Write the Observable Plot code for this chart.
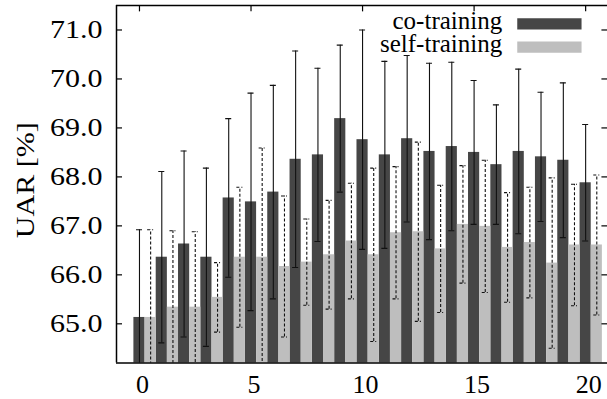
<!DOCTYPE html>
<html>
<head>
<meta charset="utf-8">
<script src="https://cdn.jsdelivr.net/npm/d3@7"></script>
<script src="https://cdn.jsdelivr.net/npm/@observablehq/plot@0.6"></script>
<style>
  html, body { margin: 0; padding: 0; background: #fff; overflow: hidden; }
</style>
</head>
<body>
<div id="chart"></div>
<script>
const iterations = [0, 1, 2, 3, 4, 5, 6, 7, 8, 9, 10, 11, 12, 13, 14, 15, 16, 17, 18, 19, 20];
const coMean   = [65.13, 66.36, 66.63, 66.36, 67.57, 67.49, 67.69, 68.36, 68.45, 69.19, 68.76, 68.45, 68.78, 68.52, 68.62, 68.50, 68.25, 68.52, 68.41, 68.34, 67.88];
const coStd    = [1.79, 1.75, 1.90, 1.82, 1.62, 2.22, 2.18, 2.21, 1.77, 1.50, 2.24, 1.91, 1.70, 1.80, 1.72, 1.47, 1.22, 1.68, 1.32, 1.58, 1.19];
const selfMean = [65.13, 65.34, 65.34, 65.54, 66.36, 66.36, 66.17, 66.26, 66.41, 66.69, 66.41, 66.86, 66.88, 66.53, 67.03, 66.99, 66.56, 66.66, 66.24, 66.61, 66.61];
const selfStd  = [1.79, 1.56, 1.54, 0.71, 1.43, 2.23, 1.44, 0.88, 1.11, 1.18, 1.77, 1.35, 1.83, 1.30, 1.20, 1.35, 1.12, 1.13, 1.74, 1.24, 1.43];
const seriesNames = ["co-training", "self-training"];
const yTicks = [65, 66, 67, 68, 69, 70, 71];
const xTicks = [0, 5, 10, 15, 20];
const yLabel = "UAR [%]";

const xDomain = [-1.03, 20.98];
const yDomain = [64.2, 71.5];
const darkFill = "#464646";
const lightFill = "#bebebe";
const halfBar = 0.25;
const capHalf = 0.135;
const yFmt = d3.format(".1f");

const co = iterations.map((x, i) => ({x, pos: x, mean: coMean[i], sd: coStd[i]}));
const self = iterations.map((x, i) => ({x, pos: x + 0.5, mean: selfMean[i], sd: selfStd[i]}));

function errorMarks(data, dash) {
  const common = {stroke: "#111", strokeWidth: 1.1, strokeDasharray: dash, clip: true};
  return [
    Plot.ruleX(data, {x: "pos", y1: d => d.mean - d.sd, y2: d => d.mean + d.sd, ...common}),
    Plot.ruleY(data, {y: d => d.mean + d.sd, x1: d => d.pos - capHalf, x2: d => d.pos + capHalf, ...common}),
    Plot.ruleY(data, {y: d => d.mean - d.sd, x1: d => d.pos - capHalf, x2: d => d.pos + capHalf, ...common})
  ];
}

const swatch = {draw(ctx) { ctx.rect(-32.15, -5.65, 64.3, 11.3); }};

const chart = Plot.plot({
  width: 607,
  height: 399,
  marginLeft: 116,
  marginRight: 0,
  marginTop: 5,
  marginBottom: 36.5,
  style: {fontFamily: "'Liberation Serif', 'Times New Roman', serif", fontSize: "25px", background: "#fff", color: "#000"},
  x: {domain: xDomain},
  y: {domain: yDomain},
  marks: [
    Plot.rectY(co, {x1: d => d.pos - halfBar, x2: d => d.pos + halfBar, y1: yDomain[0], y2: "mean", fill: darkFill}),
    Plot.rectY(self, {x1: d => d.pos - halfBar, x2: d => d.pos + halfBar, y1: yDomain[0], y2: "mean", fill: lightFill}),
    ...errorMarks(co, null),
    ...errorMarks(self, "3,2"),
    // frame (top, bottom, left)
    Plot.ruleY(yDomain, {stroke: "#000", strokeWidth: 1.5}),
    Plot.ruleX([xDomain[0]], {stroke: "#000", strokeWidth: 1.5}),
    // inward ticks
    Plot.ruleY(yTicks, {y: d => d, x1: xDomain[0], x2: xDomain[0] + 0.27, stroke: "#000", strokeWidth: 1.2}),
    Plot.ruleY(yTicks, {y: d => d, x1: xDomain[1] - 0.25, x2: xDomain[1], stroke: "#000", strokeWidth: 1.2}),
    Plot.ruleX(xTicks, {x: d => d, y1: yDomain[1], y2: yDomain[1] - 0.13, stroke: "#000", strokeWidth: 1.2}),
    Plot.axisY({ticks: yTicks, tickSize: 0, tickPadding: 14, tickFormat: yFmt, label: null, fontSize: 25}),
    Plot.axisX({ticks: xTicks, tickSize: 0, tickPadding: 11.5, dx: 3, tickFormat: d3.format("d"), label: null, fontSize: 26}),
    Plot.text([yLabel], {text: d => d, frameAnchor: "left", rotate: -90, dx: -91, dy: -4, fontSize: 25, textAnchor: "middle", lineAnchor: "middle"}),
    // legend
    Plot.text([seriesNames[0]], {text: d => d, frameAnchor: "top-right", dx: -105.3, dy: 15.5, textAnchor: "end", lineAnchor: "middle", fontSize: 25}),
    Plot.text([seriesNames[1]], {text: d => d, frameAnchor: "top-right", dx: -105.3, dy: 38.9, textAnchor: "end", lineAnchor: "middle", fontSize: 25}),
    Plot.dot([seriesNames[0]], {frameAnchor: "top-right", dx: -58.1, dy: 18.3, symbol: swatch, r: 5, fill: darkFill, stroke: "none"}),
    Plot.dot([seriesNames[1]], {frameAnchor: "top-right", dx: -58.1, dy: 41.7, symbol: swatch, r: 5, fill: lightFill, stroke: "none"})
  ]
});

// widen the y-axis tick labels and the y label like the reference typesetting
const stretchTexts = new Set([...yTicks.map(yFmt), yLabel]);
d3.select(chart).selectAll("text").each(function() {
  const t = this.textContent;
  if (!stretchTexts.has(t)) return;
  let tr = this.getAttribute("transform");
  if (!tr) {
    const x = +this.getAttribute("x") || 0, y = +this.getAttribute("y") || 0;
    this.removeAttribute("x"); this.removeAttribute("y");
    tr = `translate(${x},${y})`;
  }
  this.setAttribute("transform", `${tr} scale(1.2,1)`);
});

document.getElementById("chart").appendChild(chart);
</script>
</body>
</html>
